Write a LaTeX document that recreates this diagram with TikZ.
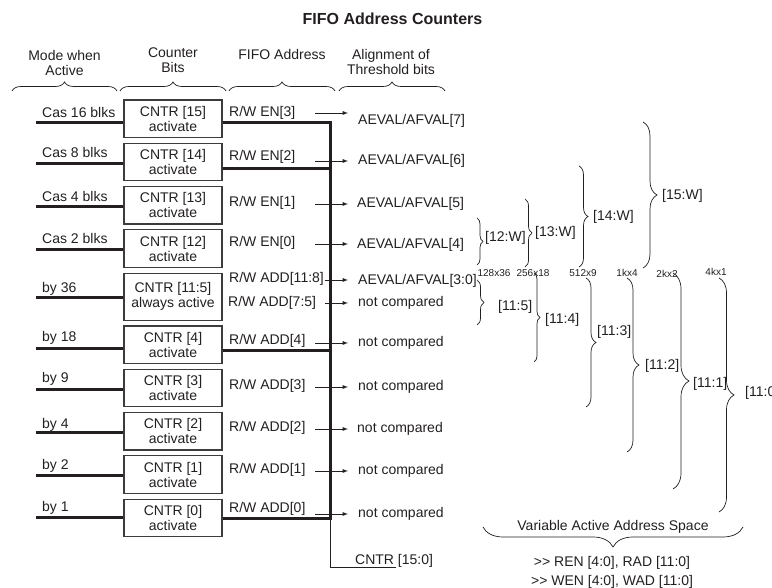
\documentclass[tikz,border=0pt]{standalone}
\usepackage{fontspec}
\setmainfont{Liberation Sans}[Ligatures=TeXOff]
\usepackage{tikz}
\usetikzlibrary{arrows, positioning, decorations.pathreplacing}
\definecolor{inkColor}{RGB}{35, 31, 32}
\definecolor{frameColor}{RGB}{60, 60, 60}
\newcommand{\fifofont}{\fontsize{14}{15}\selectfont}
\newcommand{\sizefont}{\fontsize{10}{11}\selectfont}

\begin{document}
\begin{tikzpicture}[x=1pt, y=1pt, node distance=4.6pt,
      every node/.style={font=\fifofont, text=inkColor},
      cntr/.style={rectangle, draw=frameColor, line width=1.2pt, minimum width=98pt, minimum height=37.5pt, align=center, inner sep=0pt},
      lbl/.style={anchor=west, inner sep=0pt},
      colhead/.style={anchor=north, inner sep=0pt, align=center},
      dimlbl/.style={font=\sizefont, inner sep=0pt},
      heavy/.style={draw=inkColor, line width=3pt},
      wire/.style={draw=inkColor, line width=1pt},
      sig/.style={draw=inkColor, line width=0.9pt, ->, >=latex},
      curly/.style={draw=inkColor, line width=0.7pt, decorate, decoration={brace, amplitude=#1}}]

      \useasboundingbox (0,0) rectangle (772,588);

      % title and column heads
      \node[font=\fontsize{16}{18}\selectfont\bfseries] (title) at (392.5, 569) {FIFO Address Counters};
      \node[colhead] (hmode) at (64.5, 538.2) {Mode when\\Active};
      \node[colhead] (hbits) at (173, 540.2) {Counter\\Bits};
      \node[colhead] (haddr) at (282, 538.9) {FIFO Address};
      \node[colhead] (halign) at (391, 538.9) {Alignment of\\Threshold bits};
      \draw[curly=9pt] (12, 497) -- (117, 497);
      \draw[curly=9pt] (120, 497) -- (226, 497);
      \draw[curly=9pt] (229, 497) -- (335, 497);
      \draw[curly=9pt] (339, 497) -- (445, 497);

      % counter bits
      \node[cntr] (cntr15) at (173, 469.25) {CNTR [15]\\activate};
      \node[cntr, below=of cntr15] (cntr14) {CNTR [14]\\activate};
      \node[cntr, below=of cntr14] (cntr13) {CNTR [13]\\activate};
      \node[cntr, below=of cntr13] (cntr12) {CNTR [12]\\activate};
      \node[cntr, below=of cntr12, minimum height=47pt] (cntr115) {CNTR [11:5]\\always active};
      \node[cntr, below=of cntr115] (cntr4) {CNTR [4]\\activate};
      \node[cntr, below=of cntr4] (cntr3) {CNTR [3]\\activate};
      \node[cntr, below=of cntr3] (cntr2) {CNTR [2]\\activate};
      \node[cntr, below=of cntr2] (cntr1) {CNTR [1]\\activate};
      \node[cntr, below=of cntr1] (cntr0) {CNTR [0]\\activate};

      % modes
      \node[lbl] (mode15) at (42, 475) {Cas 16 blks};
      \node[lbl] (mode14) at (42, 435) {Cas 8 blks};
      \node[lbl] (mode13) at (42, 391) {Cas 4 blks};
      \node[lbl] (mode12) at (42, 349) {Cas 2 blks};
      \node[lbl] (mode115) at (42, 299) {by 36};
      \node[lbl] (mode4) at (42, 250) {by 18};
      \node[lbl] (mode3) at (42, 209) {by 9};
      \node[lbl] (mode2) at (42, 163) {by 4};
      \node[lbl] (mode1) at (42, 122) {by 2};
      \node[lbl] (mode0) at (42, 80) {by 1};
      \draw[heavy] ([yshift=-4.25pt]cntr15.west) -- +(-87pt, 0);
      \draw[heavy] ([yshift=-1.3pt]cntr14.west) -- +(-87pt, 0);
      \draw[heavy] ([yshift=-1.3pt]cntr13.west) -- +(-87pt, 0);
      \draw[heavy] ([yshift=-1.3pt]cntr12.west) -- +(-87pt, 0);
      \draw[heavy] ([yshift=-1.3pt]cntr115.west) -- +(-87pt, 0);
      \draw[heavy] ([yshift=-4.25pt]cntr4.west) -- +(-87pt, 0);
      \draw[heavy] ([yshift=-1.3pt]cntr3.west) -- +(-87pt, 0);
      \draw[heavy] ([yshift=-1.3pt]cntr2.west) -- +(-87pt, 0);
      \draw[heavy] ([yshift=-1.3pt]cntr1.west) -- +(-87pt, 0);
      \draw[heavy] (cntr0.west) -- +(-87pt, 0);

      % address bus
      \coordinate (busbot) at ([xshift=108pt, yshift=-1pt]cntr0.east);
      \draw[heavy] ([yshift=-3.3pt]cntr15.east) -| (busbot) -- ([yshift=-1pt]cntr0.east);
      \draw[heavy] ([yshift=-6pt]cntr14.east) -- ([yshift=-6pt]cntr14.east -| busbot);
      \draw[heavy] ([yshift=-6pt]cntr4.east) -- ([yshift=-6pt]cntr4.east -| busbot);
      \draw[wire] (busbot) -- ++(0, -49pt) coordinate (busend) -- ++(65pt, 0);
      \node[lbl] (cntrall) at (355, 27) {CNTR [15:0]};

      % fifo address and threshold bits
      \node[lbl] (addr15) at (229, 475) {R/W EN[3]};
      \node[lbl] (addr14) at (229, 431) {R/W EN[2]};
      \node[lbl] (addr13) at (229, 385) {R/W EN[1]};
      \node[lbl] (addr12) at (229, 345) {R/W EN[0]};
      \node[lbl] (addr118) at (229, 309) {R/W ADD[11:8]};
      \node[lbl] (addr75) at (228, 285) {R/W ADD[7:5]};
      \node[lbl] (addr4) at (229, 247) {R/W ADD[4]};
      \node[lbl] (addr3) at (229, 202) {R/W ADD[3]};
      \node[lbl] (addr2) at (229, 160) {R/W ADD[2]};
      \node[lbl] (addr1) at (229, 118) {R/W ADD[1]};
      \node[lbl] (addr0) at (229, 79) {R/W ADD[0]};

      \node[lbl] (thr7) at (358, 467) {AEVAL/AFVAL[7]};
      \node[lbl] (thr6) at (358, 427) {AEVAL/AFVAL[6]};
      \node[lbl] (thr5) at (357, 384) {AEVAL/AFVAL[5]};
      \node[lbl] (thr4) at (357, 343) {AEVAL/AFVAL[4]};
      \node[lbl] (thr30) at (358, 307) {AEVAL/AFVAL[3:0]};
      \node[lbl] (nc75) at (358, 285) {not compared};
      \node[lbl] (nc4) at (358, 245) {not compared};
      \node[lbl] (nc3) at (358, 201) {not compared};
      \node[lbl] (nc2) at (357, 159) {not compared};
      \node[lbl] (nc1) at (358, 117) {not compared};
      \node[lbl] (nc0) at (358, 74) {not compared};
      \draw[sig] ([xshift=-43pt, yshift=8pt]thr7.west) -- ([xshift=-10pt, yshift=8pt]thr7.west);
      \draw[sig] ([xshift=-43pt]thr6.west) -- ([xshift=-10pt]thr6.west);
      \draw[sig] ([xshift=-42pt]thr5.west) -- ([xshift=-9pt]thr5.west);
      \draw[sig] ([xshift=-42pt, yshift=1pt]thr4.west) -- ([xshift=-9pt, yshift=1pt]thr4.west);
      \draw[sig] ([xshift=-33pt, yshift=1pt]thr30.west) -- ([xshift=-10pt, yshift=1pt]thr30.west);
      \draw[sig] ([xshift=-33pt]nc75.west) -- ([xshift=-10pt]nc75.west);
      \draw[sig] ([xshift=-43pt]nc4.west) -- ([xshift=-10pt]nc4.west);
      \draw[sig] ([xshift=-43pt]nc3.west) -- ([xshift=-10pt]nc3.west);
      \draw[sig] ([xshift=-42pt]nc2.west) -- ([xshift=-9pt]nc2.west);
      \draw[sig] ([xshift=-43pt]nc1.west) -- ([xshift=-10pt]nc1.west);
      \draw[sig] ([xshift=-43pt]nc0.west) -- ([xshift=-10pt]nc0.west);

      % cascade width
      \draw[curly=6pt] (477, 370) -- (477, 323);
      \draw[curly=7pt] (525, 389) -- (525, 321);
      \draw[curly=9pt] (579, 422) -- (579, 321);
      \draw[curly=14pt] (643, 466) -- (643, 320);
      \node[lbl] (w12) at (485, 350) {[12:W]};
      \node[lbl] (w13) at (535, 355) {[13:W]};
      \node[lbl] (w14) at (593, 371) {[14:W]};
      \node[lbl] (w15) at (662, 392) {[15:W]};

      % depth x width
      \node[dimlbl] (s128) at (494, 315) {128x36};
      \node[dimlbl] (s256) at (533, 315) {256x18};
      \node[dimlbl] (s512) at (583, 315) {512x9};
      \node[dimlbl] (s1k) at (627, 315) {1kx4};
      \node[dimlbl] (s2k) at (667, 314) {2kx2};
      \node[dimlbl] (s4k) at (716, 316) {4kx1};

      % active address range
      \draw[curly=7pt] (477, 308) -- (477, 263);
      \draw[curly=6pt] (534, 315) -- (534, 226);
      \draw[curly=10pt] (586, 310) -- (586, 181);
      \draw[curly=12pt] (627, 310) -- (627, 136);
      \draw[curly=16pt] (673, 315) -- (673, 99);
      \draw[curly=15pt] (719, 310) -- (719, 76);
      \node[lbl] (r5) at (498, 281) {[11:5]};
      \node[lbl] (r4) at (545, 268) {[11:4]};
      \node[lbl] (r3) at (597, 256) {[11:3]};
      \node[lbl] (r2) at (645, 222) {[11:2]};
      \node[lbl] (r1) at (693, 204) {[11:1]};
      \node[lbl] (r0) at (745, 195) {[11:0]};

      \draw[curly=20pt] (743, 61) -- (483, 61);
      \node (space) at (613, 61) {Variable Active Address Space};
      \node (renline) at (612, 25) {>> REN [4:0], RAD [11:0]};
      \node[below=-1pt of renline] (wenline) {>> WEN [4:0], WAD [11:0]};
  \end{tikzpicture}
\end{document}
